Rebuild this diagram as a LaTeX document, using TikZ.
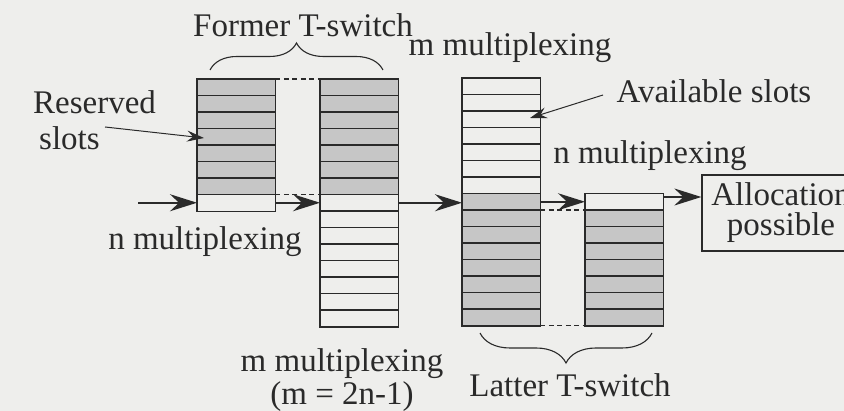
\documentclass[tikz,border=0pt]{standalone}
\usepackage{fontspec}
\setmainfont{Liberation Serif}
\usetikzlibrary{arrows.meta,calc,decorations.pathreplacing}
\definecolor{bg}{RGB}{238,238,236}
\definecolor{ink}{RGB}{42,42,42}
\definecolor{slotfill}{RGB}{198,198,198}
\begin{document}
\begin{tikzpicture}[x=1pt,y=-1pt,
  blk/.style={minimum width=78pt, inner sep=0pt, anchor=north west, rectangle},
  outline/.style={draw=ink, line width=1.3pt},
  div/.style={draw=ink, line width=1.1pt},
  dashlink/.style={draw=ink, line width=1.1pt, dash pattern=on 5pt off 3.5pt},
  flow/.style={draw=ink, line width=1.6pt, -{Stealth[length=27pt,width=17pt,inset=9pt]}},
  pointer/.style={draw=ink, line width=1pt, -{Stealth[length=17pt,width=11pt,inset=6pt]}},
  lbl/.style={text=ink, font=\fontsize{33}{36}\selectfont, inner sep=0pt},
  brc/.style={draw=ink, line width=1.1pt, decorate, decoration={brace, amplitude=#1}},
]
\fill[bg] (0,0) rectangle (844,411);
\useasboundingbox (0,0) rectangle (844,411);

% slot blocks
\node[blk, minimum height=132pt] (A) at (197,79) {};
\node[blk, minimum height=247.5pt] (B) at (320,79) {};
\node[blk, minimum height=247.5pt] (C) at (462,78) {};
\node[blk, minimum height=132pt] (D) at (585,193.5) {};

% shaded (reserved) slots
\fill[slotfill] (A.north west) rectangle ($(A.north east)+(0,115.5)$);
\fill[slotfill] (B.north west) rectangle ($(B.north east)+(0,115.5)$);
\fill[slotfill] ($(C.north west)+(0,115.5)$) rectangle (C.south east);
\fill[slotfill] ($(D.north west)+(0,16.5)$) rectangle (D.south east);

% row dividers
\foreach \i in {1,...,7} {
  \draw[div] ($(A.north west)+(0,\i*16.5)$) -- ($(A.north east)+(0,\i*16.5)$);
  \draw[div] ($(D.north west)+(0,\i*16.5)$) -- ($(D.north east)+(0,\i*16.5)$);
}
\foreach \i in {1,...,14} {
  \draw[div] ($(B.north west)+(0,\i*16.5)$) -- ($(B.north east)+(0,\i*16.5)$);
  \draw[div] ($(C.north west)+(0,\i*16.5)$) -- ($(C.north east)+(0,\i*16.5)$);
}
\foreach \b in {A,B,C,D} \draw[outline] (\b.north west) rectangle (\b.south east);

% dashed links
\draw[dashlink] (A.north east) -- (B.north west);
\draw[dashlink] ($(A.north east)+(0,115.5)$) -- ($(B.north west)+(0,115.5)$);
\draw[dashlink] ($(C.north east)+(0,132)$) -- ($(D.north west)+(0,16.5)$);
\draw[dashlink] (C.south east) -- (D.south west);

% result box
\node[draw=ink, line width=1.3pt, minimum width=158pt, minimum height=76pt, inner sep=0pt,
      align=center, text=ink, font=\fontsize{33}{30}\selectfont] (alloc) at (781,213) {Allocation\\possible};

% flow arrows
\coordinate (in) at (138,202.75);
\draw[flow] (in) -- (in -| A.west);
\coordinate (ab) at ($(A.north east)+(0,123.75)$);
\draw[flow] (ab) -- (ab -| B.west);
\coordinate (bc) at ($(B.north east)+(0,123.75)$);
\draw[flow] (bc) -- (bc -| C.west);
\coordinate (cd) at ($(D.north west)+(0,8.25)$);
\draw[flow] (cd -| C.east) -- (cd);
\coordinate (dout) at (663,197);
\draw[flow] (dout) -- (dout -| alloc.west);

% labels
\node[lbl, anchor=base] (former) at (303,37) {Former T-switch};
\node[lbl, anchor=base] (mtop) at (510,56) {m multiplexing};
\node[lbl, anchor=base] (avail) at (714,103) {Available slots};
\node[lbl, anchor=base] (nright) at (650,164) {n multiplexing};
\node[lbl, anchor=base] (nleft) at (205,250) {n multiplexing};
\node[lbl, anchor=north, align=center, font=\fontsize{33}{33}\selectfont] (mbot) at (342,348) {m multiplexing\\(m = 2n-1)};
\node[lbl, anchor=base] (latter) at (570,397) {Latter T-switch};
\node[lbl, anchor=north west, align=left] (res) at (33,90) {Reserved\\\hspace*{6pt}slots};

% pointers
\coordinate (rs0) at (105,127);
\coordinate (rs1) at (204,138);
\draw[pointer] (rs0) -- (rs1);
\coordinate (av0) at (603,95);
\coordinate (av1) at (530,118);
\draw[pointer] (av0) -- (av1);

% braces
\coordinate (fb0) at (210,70);
\coordinate (fb1) at (383,70);
\draw[brc=27] (fb0) -- (fb1);
\coordinate (lb0) at (652,333);
\coordinate (lb1) at (480,333);
\draw[brc=30] (lb0) -- (lb1);
\end{tikzpicture}
\end{document}
